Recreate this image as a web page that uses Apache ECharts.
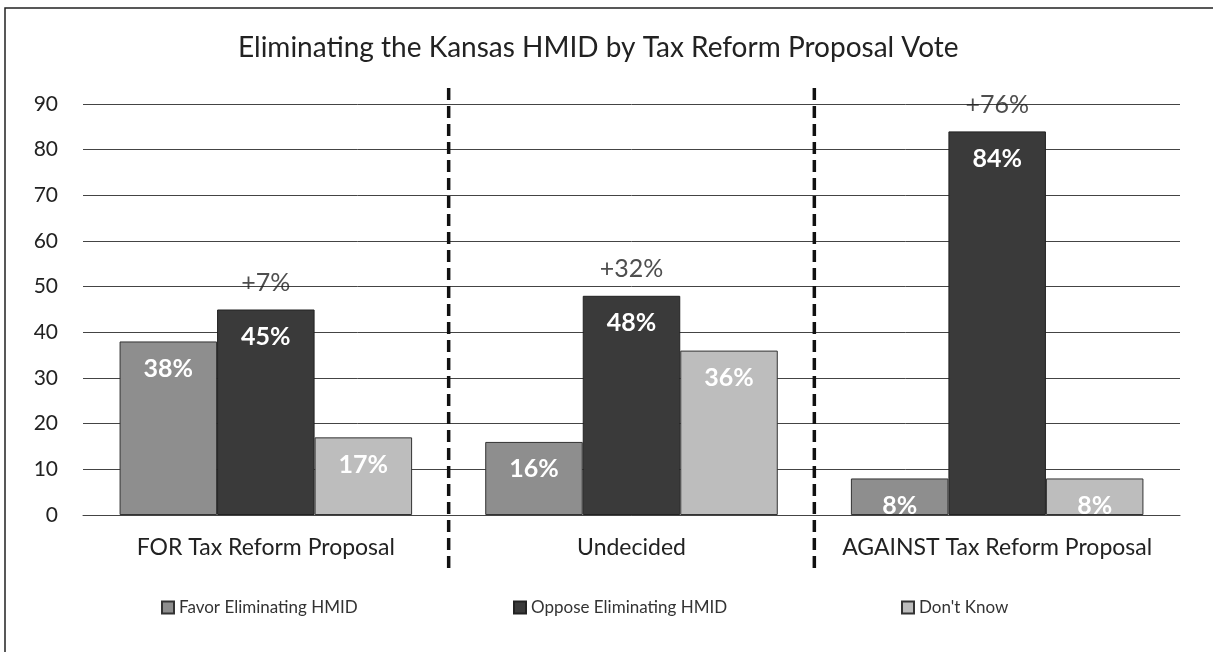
<!DOCTYPE html>
<html>
<head>
<meta charset="utf-8">
<script src="https://cdn.jsdelivr.net/npm/echarts@6/dist/echarts.min.js"></script>
<style>
html,body{margin:0;padding:0;background:#fff;}
#chart{width:1213px;height:652px;}
</style>
</head>
<body>
<div id="chart"></div>
<script>
const categories = ['FOR Tax Reform Proposal', 'Undecided', 'AGAINST Tax Reform Proposal'];
const seriesNames = ['Favor Eliminating HMID', 'Oppose Eliminating HMID', "Don't Know"];
const favor = [38, 16, 8];
const oppose = [45, 48, 84];
const dontKnow = [17, 36, 8];
const yTicks = [0, 10, 20, 30, 40, 50, 60, 70, 80, 90];

const FONT = 'Lato, "Open Sans", sans-serif';
const colors = ['#8e8e8e', '#3a3a3a', '#bdbdbd'];
const margins = oppose.map((v, i) => v - favor[i]);

const chart = echarts.init(document.getElementById('chart'), null, {renderer: 'canvas'});

function valueLabel() {
  return {
    show: true,
    position: 'insideTop',
    distance: 15,
    color: '#fff',
    fontFamily: FONT,
    fontWeight: 'bold',
    fontSize: 25,
    formatter: p => p.value + '%'
  };
}

const legendLefts = [156, 508, 896];
const legends = seriesNames.map((n, i) => ({
  data: [n],
  top: 594,
  left: legendLefts[i],
  icon: 'rect',
  itemWidth: 12,
  itemHeight: 12,
  itemGap: 0,
  textStyle: {fontFamily: FONT, fontSize: 17, color: '#333'}
}));

const option = {
  backgroundColor: '#fff',
  animation: false,
  title: {
    text: 'Eliminating the Kansas HMID by Tax Reform Proposal Vote',
    left: 233,
    top: 29,
    textStyle: {fontFamily: FONT, fontWeight: 'normal', fontSize: 28, color: '#222'}
  },
  legend: legends,
  grid: {left: 83, right: 33, top: 104, bottom: 137},
  xAxis: {
    type: 'category',
    data: categories,
    axisTick: {show: false},
    axisLine: {lineStyle: {color: '#444', width: 1}},
    axisLabel: {fontFamily: FONT, fontSize: 23, color: '#222', margin: 21, interval: 0}
  },
  yAxis: {
    type: 'value',
    min: yTicks[0],
    max: yTicks[yTicks.length - 1],
    interval: 10,
    axisLine: {show: false},
    axisTick: {show: false},
    axisLabel: {fontFamily: FONT, fontSize: 21, color: '#222', margin: 25},
    splitLine: {lineStyle: {color: '#444', width: 1}}
  },
  series: [
    {
      name: seriesNames[0], type: 'bar', data: favor,
      barGap: '0%', barCategoryGap: '20%',
      itemStyle: {color: colors[0], borderColor: '#333', borderWidth: 1},
      label: valueLabel()
    },
    {
      name: seriesNames[1], type: 'bar', data: oppose,
      itemStyle: {color: colors[1], borderColor: '#222', borderWidth: 1},
      label: valueLabel()
    },
    {
      name: seriesNames[2], type: 'bar', data: dontKnow,
      itemStyle: {color: colors[2], borderColor: '#333', borderWidth: 1},
      label: valueLabel()
    },
    {
      name: 'margin', type: 'scatter', data: oppose,
      symbolSize: 0, silent: true, legendHoverLink: false,
      label: {
        show: true, position: 'top', distance: 14,
        fontFamily: FONT, fontSize: 25, color: '#222',
        formatter: p => '+' + margins[p.dataIndex] + '%'
      },
      z: 5
    }
  ]
};

chart.setOption(option);

// Dashed separators between category groups, positioned from the axis scale
const x0 = chart.convertToPixel({xAxisIndex: 0}, 0);
const x1 = chart.convertToPixel({xAxisIndex: 0}, 1);
const x2 = chart.convertToPixel({xAxisIndex: 0}, 2);
const yTop = chart.convertToPixel({yAxisIndex: 0}, 90);
const seps = [(x0 + x1) / 2, (x1 + x2) / 2];
const graphics = seps.map(x => ({
  type: 'line',
  shape: {x1: x, y1: yTop - 16, x2: x, y2: 568},
  style: {stroke: '#111', lineWidth: 3.5, lineDash: [12, 6]},
  z: 10
}));
graphics.push({
  type: 'polyline',
  shape: {points: [[5, 652], [5, 8], [1213, 8]]},
  style: {stroke: '#222', lineWidth: 1.5, fill: null},
  z: 10
});
chart.setOption({graphic: graphics});
</script>
</body>
</html>
